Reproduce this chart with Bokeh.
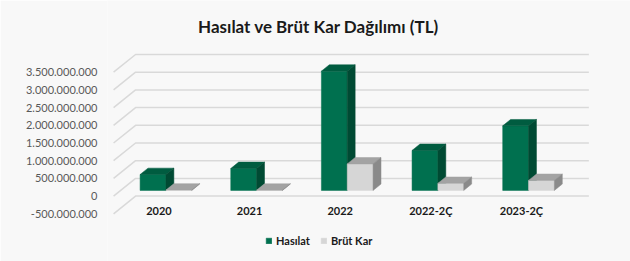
from bokeh.plotting import figure
from bokeh.models import (ColumnDataSource, Range1d, FixedTicker, CustomJSTickFormatter,
                          Legend, LegendItem)
from bokeh.core.properties import value
from bokeh.embed import file_html
from bokeh.resources import INLINE

# ---- data ----
categories = ["2020", "2021", "2022", "2022-2Ç", "2023-2Ç"]
hasilat = [450e6, 620e6, 3370e6, 1130e6, 1825e6]
brut_kar = [12e6, 8e6, 750e6, 200e6, 283e6]
series_names = ["Hasılat", "Brüt Kar"]
y_ticks = [-500e6, 0, 500e6, 1000e6, 1500e6, 2000e6, 2500e6, 3000e6, 3500e6]
title_text = "Hasılat ve Brüt Kar Dağılımı (TL)"

# ---- layout constants ----
W, H = 630, 261
FRAME_L = 107
Y0_PX = 195.6          # front-plane zero (px from top)
PX_PER_V = 35.4e-9     # px per TL
X0_PX = 158.4          # front-plane center of first category
PX_PER_X = 90.65       # px per category

x_start = (FRAME_L - X0_PX) / PX_PER_X
x_end = (W - X0_PX) / PX_PER_X
y_start = -(H - Y0_PX) / PX_PER_V
y_end = Y0_PX / PX_PER_V

def px2x(px):
    return (px - X0_PX) / PX_PER_X

def py2v(py):
    return (Y0_PX - py) / PX_PER_V

DX = 22 / PX_PER_X     # wall depth (x)
DV = 500e6             # wall depth (value)
F1, F2 = 0.32, 0.68    # bar depth fractions
W_BAR = 0.285

BG = "#f8f8f8"
GRID = "#d9d9d9"
COLORS = [("#00704f", "#005c40", "#004a33"),   # front, top, side
          ("#d6d6d6", "#a3a3a3", "#8a8a8a")]

p = figure(width=W, height=H, output_backend="svg", toolbar_location=None,
           x_range=Range1d(x_start, x_end), y_range=Range1d(y_start, y_end),
           x_axis_location=None, min_border_left=FRAME_L, min_border_right=0,
           min_border_top=0, min_border_bottom=0,
           background_fill_color=BG, border_fill_color=BG, outline_line_color=None)
p.grid.visible = False

# ---- y axis ----
ax = p.yaxis[0]
ax.ticker = FixedTicker(ticks=y_ticks)
ax.formatter = CustomJSTickFormatter(code="""
    return Math.round(tick).toString().replace(/\\B(?=(\\d{3})+(?!\\d))/g, '.');
""")
ax.axis_line_color = None
ax.major_tick_line_color = None
ax.minor_tick_line_color = None
ax.major_label_standoff = 4
ax.major_label_text_font = "Lato"
ax.major_label_text_font_size = "11px"
ax.major_label_text_color = "#595959"

# ---- walls / gridlines ----
n = len(categories)
xl, xr = -0.5, n - 0.5
gx, gy = [], []
for t in y_ticks:
    gx.append([xl, xl + DX, xr + DX])
    gy.append([t, t + DV, t + DV])
p.multi_line(xs=gx, ys=gy, line_color=GRID, line_width=1.5)

# ---- 3D bars ----
renderers = []
for s, vals in enumerate([hasilat, brut_kar]):
    xs, ys, cols = [], [], []
    for i, v in enumerate(vals):
        x0 = i - W_BAR + s * W_BAR + F1 * DX
        x1 = x0 + W_BAR
        base = F1 * DV
        top = v + F1 * DV
        ddx = (F2 - F1) * DX
        ddv = (F2 - F1) * DV
        xs.append([x0, x1, x1, x0]); ys.append([base, base, top, top]); cols.append(COLORS[s][0])
        xs.append([x0, x1, x1 + ddx, x0 + ddx]); ys.append([top, top, top + ddv, top + ddv]); cols.append(COLORS[s][1])
        xs.append([x1, x1 + ddx, x1 + ddx, x1]); ys.append([base, base + ddv, top + ddv, top]); cols.append(COLORS[s][2])
    src = ColumnDataSource(dict(xs=xs, ys=ys, c=cols))
    r = p.patches("xs", "ys", source=src, fill_color="c", line_color="c", line_width=0.5)
    renderers.append(r)

# ---- category labels ----
p.text(x=list(range(n)), y=[py2v(210)] * n, text=categories,
       text_font=value("Lato"), text_font_style="bold", text_font_size="11px",
       text_color="#1a1a1a", text_align="center", text_baseline="middle")

# ---- title ----
p.text(x=[px2x(318)], y=[py2v(26)], text=[title_text],
       text_font=value("Lato"), text_font_style="bold", text_font_size="17px",
       text_color="#1a1a1a", text_align="center", text_baseline="middle")

# ---- legend ----
legend = Legend(items=[LegendItem(label=series_names[0], renderers=[renderers[0]], index=0),
                       LegendItem(label=series_names[1], renderers=[renderers[1]], index=0)],
                orientation="horizontal", location=(265 - FRAME_L, 14),
                glyph_width=7, glyph_height=7, label_height=12, label_standoff=4,
                spacing=10, padding=0, margin=0, border_line_color=None,
                background_fill_alpha=0, label_text_font="Lato",
                label_text_font_style="bold", label_text_font_size="11px",
                label_text_color="#1a1a1a")
p.add_layout(legend, "center")

open("out.html", "w").write(file_html(p, INLINE))
